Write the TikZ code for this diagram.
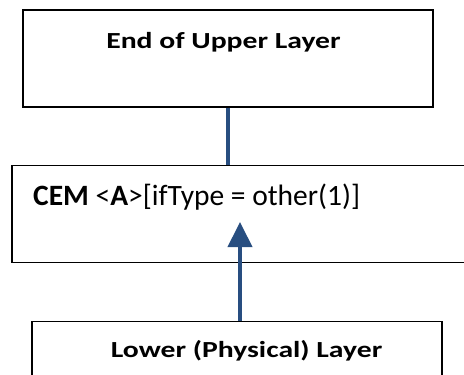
\documentclass[tikz,border=0pt]{standalone}
\usepackage{fontspec}
\setmainfont{Carlito}
\newfontfamily\layerfont[FakeStretch=1.29]{Carlito}
\usetikzlibrary{arrows.meta}

\definecolor{linkblue}{RGB}{40,78,128}

\tikzset{layer_style/.style={draw=black, line width=1.4pt, inner sep=0pt, minimum height=97pt},
         head_style/.style={font=\layerfont\bfseries\fontsize{23}{26}\selectfont, inner sep=0pt, anchor=base},
         cem_style/.style={font=\fontsize{29.5}{32}\selectfont, inner sep=0pt, anchor=base west},
         link_style/.style={draw=linkblue, line width=4pt}}

\begin{document}
\begin{tikzpicture}[x=1pt, y=-1pt]
    \useasboundingbox (0,0) rectangle (464,375);
    \clip (0,0) rectangle (464,375);

    \node[layer_style, minimum width=410pt] (upper) at (228,58.5) {};
    \node[layer_style, minimum width=500pt] (cem) at (262,214) {};
    \node[layer_style, minimum width=410pt] (lower) at (237,370) {};

    \node[head_style] (uppertxt) at (223.5,48) {End of Upper Layer};
    \node[cem_style] (cemtxt) at (33,205) {\textbf{CEM} <\textbf{A}>[ifType = other(1)]};
    \node[head_style] (lowertxt) at (246.5,357) {Lower (Physical) Layer};

    \coordinate (tip) at (240,222);

    \draw[link_style] (upper.south) -- (upper.south |- cem.north);
    \draw[link_style, -{Triangle[width=24pt, length=25pt]}] (lower.north -| tip) -- (tip);

\end{tikzpicture}
\end{document}
